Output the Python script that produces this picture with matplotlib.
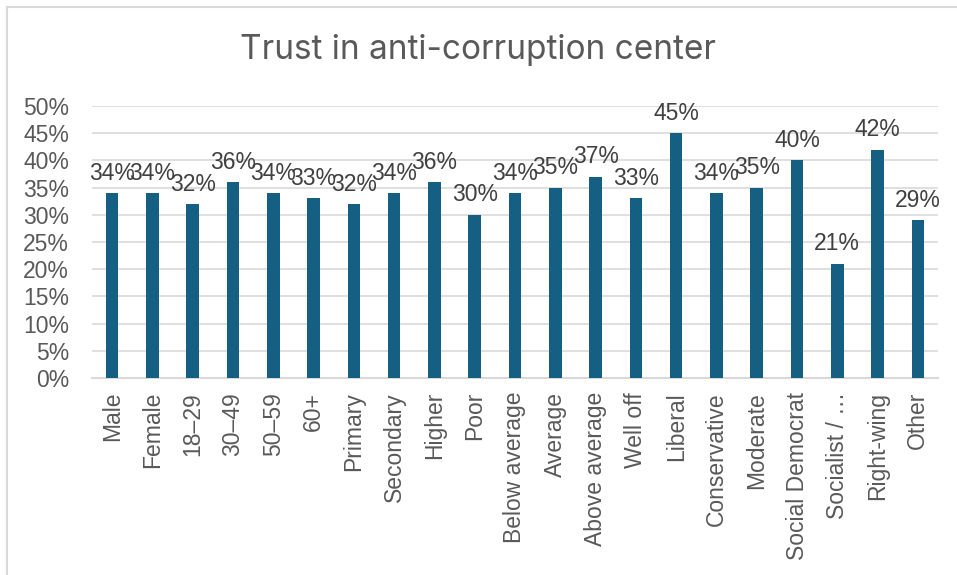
import matplotlib
matplotlib.use("Agg")
import matplotlib.pyplot as plt
from matplotlib.lines import Line2D
from matplotlib.ticker import MultipleLocator, FuncFormatter

categories = [
    "Male", "Female", "18\u201329", "30\u201349", "50\u201359", "60+",
    "Primary", "Secondary", "Higher", "Poor", "Below average", "Average",
    "Above average", "Well off", "Liberal", "Conservative", "Moderate",
    "Social Democrat", "Socialist / \u2026", "Right-wing", "Other",
]
trust = [34, 34, 32, 36, 34, 33, 32, 34, 36, 30, 34, 35, 37, 33, 45, 34, 35, 40, 21, 42, 29]
title = "Trust in anti-corruption center"

bar_color = "#156082"
grid_color = "#d9d9d9"
tick_color = "#595959"
label_color = "#404040"
font = ["Liberation Sans", "DejaVu Sans"]
fsize = 16.5

W, H = 957, 575
fig = plt.figure(figsize=(W / 100, H / 100), dpi=100)
fig.patch.set_facecolor("white")

# chart frame (top and left edges)
fig.add_artist(Line2D([7 / W, 1.0], [1 - 7 / H, 1 - 7 / H], color=grid_color, lw=1.5,
                      transform=fig.transFigure))
fig.add_artist(Line2D([7 / W, 7 / W], [0.0, 1 - 7 / H], color=grid_color, lw=1.5,
                      transform=fig.transFigure))

left, right = 92 / W, 938 / W
bottom, top = (H - 378) / H, (H - 106) / H
ax = fig.add_axes([left, bottom, right - left, top - bottom])

x = list(range(len(categories)))
vals = [v / 100 for v in trust]
ax.bar(x, vals, width=0.31, color=bar_color, zorder=3)

ax.set_xlim(-0.5, len(categories) - 0.5)
ax.set_ylim(0, 0.5)
ax.yaxis.set_major_locator(MultipleLocator(0.05))
ax.yaxis.set_major_formatter(FuncFormatter(lambda v, p: f"{v * 100:.0f}%"))
ax.grid(axis="y", color=grid_color, lw=1.2, zorder=0)
ax.set_axisbelow(True)
for s in ["top", "right", "left"]:
    ax.spines[s].set_visible(False)
ax.spines["bottom"].set_color(grid_color)
ax.spines["bottom"].set_linewidth(1.5)
ax.tick_params(axis="both", length=0, colors=tick_color)
ax.tick_params(axis="y", pad=16.5)
ax.tick_params(axis="x", pad=10)
ax.set_xticks(x)
ax.set_xticklabels(categories, rotation=90, va="top", ha="center")
for t in ax.get_xticklabels() + ax.get_yticklabels():
    t.set_fontfamily(font)
    t.set_fontsize(fsize)
    t.set_color(tick_color)

for xi, v, pct in zip(x, vals, trust):
    ax.annotate(f"{pct}%", (xi, v), xytext=(0, 6), textcoords="offset points",
                ha="center", va="bottom", fontsize=fsize, color=label_color,
                family=font)

fig.text(0.5, 1 - 50 / H, title, ha="center", va="center", fontsize=24,
         color=tick_color, family=["Inter", "DejaVu Sans"])

fig.savefig("out.png", dpi=100, facecolor="white")
